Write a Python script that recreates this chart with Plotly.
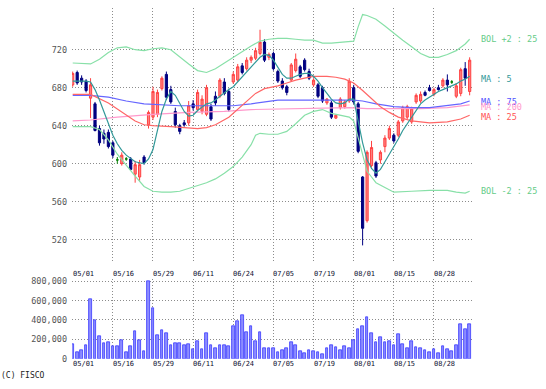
import plotly.graph_objects as go

# ---------------- data ----------------
tick_idx = [0, 9, 18, 27, 36, 45, 54, 63, 72, 81]
tick_labels = ["05/01", "05/16", "05/29", "06/11", "06/24",
               "07/05", "07/19", "08/01", "08/15", "08/28"]

open_ = [683, 696, 690, 687, 669, 663, 637, 632, 633, 622,
         604, 600, 605, 605, 589, 586, 607, 641, 649, 652,
         679, 694, 678, 655, 640, 643, 643, 663, 657, 655,
         652, 660, 671, 671, 686, 676, 686, 688, 703, 700,
         709, 711, 716, 728, 712, 716, 697, 687, 681, 688,
         698, 702, 709, 697, 683, 683, 680, 664, 664, 648,
         659, 660, 666, 680, 663, 586, 540, 598, 601, 604,
         618, 627, 630, 630, 645, 649, 644, 665, 666, 675,
         680, 673, 680, 682, 688, 686, 671, 674, 700, 676]
high = [697, 698, 693, 689, 690, 665, 640, 636, 636, 624,
        607, 612, 607, 607, 603, 604, 609, 656, 681, 678,
        692, 697, 682, 659, 642, 646, 666, 667, 678, 672,
        683, 663, 676, 690, 690, 679, 697, 705, 706, 712,
        714, 722, 741, 731, 717, 718, 699, 690, 683, 706,
        716, 704, 711, 700, 690, 685, 682, 669, 666, 652,
        670, 667, 690, 683, 665, 587, 614, 624, 603, 614,
        630, 640, 632, 646, 661, 662, 660, 674, 676, 677,
        683, 680, 683, 690, 694, 688, 685, 701, 707, 712]
low = [681, 683, 683, 675, 648, 634, 619, 621, 616, 606,
       600, 598, 603, 593, 580, 582, 599, 637, 646, 649,
       677, 667, 663, 638, 631, 639, 640, 656, 655, 652,
       650, 645, 661, 669, 672, 655, 684, 686, 694, 698,
       706, 709, 714, 707, 709, 698, 685, 678, 672, 686,
       696, 690, 697, 688, 681, 669, 664, 662, 647, 647,
       657, 658, 664, 663, 611, 514, 538, 596, 585, 600,
       612, 625, 622, 628, 643, 647, 642, 663, 664, 671,
       676, 671, 677, 680, 676, 684, 669, 671, 682, 672]
close = [695, 685, 686, 677, 683, 635, 622, 626, 618, 609,
         604, 609, 605, 594, 599, 599, 601, 654, 676, 675,
         690, 670, 665, 641, 634, 641, 661, 659, 675, 668,
         680, 647, 664, 688, 674, 657, 694, 702, 696, 709,
         712, 719, 728, 709, 715, 700, 687, 680, 675, 704,
         710, 692, 699, 690, 688, 671, 666, 668, 649, 651,
         668, 665, 687, 665, 613, 532, 612, 617, 587, 612,
         627, 637, 624, 644, 659, 660, 658, 672, 673, 672,
         677, 678, 678, 688, 683, 686, 682, 699, 690, 709]
doji_idx = [10, 12, 85]

volume = [150000, 67000, 90000, 140000, 610000, 397000, 233000, 163000, 173000, 127000,
          127000, 193000, 73000, 127000, 283000, 190000, 83000, 800000, 517000, 240000,
          290000, 267000, 143000, 160000, 160000, 143000, 150000, 97000, 177000, 100000,
          260000, 143000, 110000, 143000, 143000, 127000, 337000, 387000, 453000, 270000,
          337000, 177000, 277000, 107000, 107000, 107000, 70000, 93000, 113000, 170000,
          143000, 83000, 63000, 87000, 83000, 70000, 50000, 113000, 140000, 123000,
          90000, 133000, 113000, 193000, 310000, 333000, 430000, 267000, 167000, 227000,
          167000, 180000, 140000, 250000, 150000, 107000, 180000, 117000, 107000, 90000,
          67000, 100000, 63000, 133000, 100000, 77000, 143000, 360000, 310000, 360000]

ma5 = [687, 687, 687, 687, 686, 678, 667, 654, 641, 630,
       621, 614, 609, 605, 602, 601, 600, 605, 615, 635,
       655, 668, 676, 672, 664, 655, 650, 651, 656, 660,
       663, 664, 667, 671, 675, 678, 681, 686, 691, 696,
       702, 707, 712, 715, 714, 709, 701, 694, 690, 690,
       692, 694, 695, 695, 692, 687, 680, 674, 668, 664,
       663, 664, 668, 668, 645, 622, 604, 595, 590, 594,
       602, 610, 617, 626, 635, 642, 649, 656, 663, 667,
       670, 673, 676, 678, 680, 682, 684, 687, 689, 692]

ma25_x = [0, 4, 8, 12, 14, 16, 18, 22, 25, 28, 30, 32, 35, 37, 39, 41, 43, 46, 48, 50,
          52, 54, 57, 59, 61, 63, 65, 67, 69, 71, 73, 76, 80, 84, 87, 89]
ma25_y = [673, 673, 664, 651, 645, 641, 640, 639, 638, 637, 638, 641, 649, 657, 666, 674, 679, 682, 685, 688,
          690, 692, 692, 691, 689, 685, 677, 668, 660, 654, 649, 645, 643, 644, 647, 651]

ma75_x = [0, 4, 8, 12, 16, 20, 24, 30, 36, 40, 43, 46, 50, 55, 60, 63, 65, 68, 72, 76, 80, 84, 87, 89]
ma75_y = [672, 672, 670, 666, 663, 662, 661, 661, 661, 663, 665, 667, 667, 667, 667, 667, 666, 663, 660, 659,
          659, 661, 663, 666]

ma200_x = [0, 4, 10, 18, 26, 34, 40, 48, 56, 62, 66, 72, 78, 84, 89]
ma200_y = [645, 646, 649, 652, 654, 655, 657, 658, 659, 659, 658, 658, 658, 659, 662]

bolu_x = [0, 4, 6, 8, 10, 12, 14, 16, 18, 20, 22, 24, 26, 28, 30, 32, 34, 36, 38, 40, 42, 44, 46, 48,
          50, 52, 54, 56, 58, 60, 62, 63, 64, 65, 66, 68, 70, 72, 74, 76, 78, 80, 82, 84, 86, 88, 89]
bolu_y = [706, 705, 710, 717, 722, 723, 720, 719, 721, 722, 720, 712, 705, 698, 696, 700, 706, 712, 718, 724,
          729, 731, 732, 732, 731, 730, 730, 727, 727, 728, 729, 729, 744, 757, 756, 752, 745, 737, 730, 723,
          716, 712, 712, 715, 719, 726, 731]

boll_x = [0, 4, 6, 8, 10, 12, 14, 16, 18, 20, 22, 24, 26, 28, 30, 32, 34, 36, 38, 40, 41, 42, 44, 46, 48,
          50, 52, 54, 56, 58, 60, 62, 63, 64, 65, 66, 67, 68, 70, 72, 76, 80, 84, 86, 88, 89]
boll_y = [639, 639, 636, 625, 610, 598, 587, 576, 571, 570, 570, 571, 574, 577, 580, 584, 590, 597, 607, 620,
          630, 632, 631, 631, 634, 642, 651, 655, 657, 653, 651, 649, 645, 628, 611, 592, 586, 580, 575, 570,
          571, 572, 572, 570, 569, 571]

price_ticks = [520, 560, 600, 640, 680, 720]
vol_ticks = [0, 200000, 400000, 600000, 800000]

right_labels = [("BOL +2 : 25", 731, "#66cc88"),
                ("MA : 5", 689, "#339999"),
                ("MA : 75", 665, "#5555ff"),
                ("MA : 200", 660, "#ff99cc"),
                ("MA : 25", 649, "#ff5555"),
                ("BOL -2 : 25", 571, "#66cc88")]

# ---------------- figure ----------------
W, H = 546, 389
X0, X1 = 72, 473
Y_MAIN_TOP, Y_MAIN_BOT = 5, 263
Y_VOL_TOP, Y_VOL_BOT = 282, 363.3
MAIN_RANGE = [498, 764]


def py(p):
    return 1 - p / H


def val_to_px(v):
    return Y_MAIN_TOP + (MAIN_RANGE[1] - v) / (MAIN_RANGE[1] - MAIN_RANGE[0]) * (Y_MAIN_BOT - Y_MAIN_TOP)


fig = go.Figure()

norm = [i for i in range(len(open_)) if i not in doji_idx]
fig.add_trace(go.Candlestick(
    x=norm, open=[open_[i] for i in norm], high=[high[i] for i in norm],
    low=[low[i] for i in norm], close=[close[i] for i in norm],
    increasing=dict(fillcolor="#ff8080", line=dict(color="#ff4040", width=1)),
    decreasing=dict(fillcolor="#000080", line=dict(color="#000080", width=1)),
    whiskerwidth=0, hoverinfo="skip", showlegend=False, xaxis="x", yaxis="y"))
fig.add_trace(go.Candlestick(
    x=doji_idx, open=[open_[i] for i in doji_idx], high=[high[i] for i in doji_idx],
    low=[low[i] for i in doji_idx], close=[close[i] for i in doji_idx],
    increasing=dict(fillcolor="#008000", line=dict(color="#008000", width=1)),
    decreasing=dict(fillcolor="#008000", line=dict(color="#008000", width=1)),
    whiskerwidth=0, hoverinfo="skip", showlegend=False, xaxis="x", yaxis="y"))

lines = [
    (bolu_x, bolu_y, "#88e0a8"),
    (boll_x, boll_y, "#88e0a8"),
    (ma200_x, ma200_y, "#ff99cc"),
    (ma75_x, ma75_y, "#6666ff"),
    (ma25_x, ma25_y, "#ff6666"),
    (list(range(len(ma5))), ma5, "#339999"),
]
for lx, ly, col in lines:
    fig.add_trace(go.Scatter(x=lx, y=ly, mode="lines", line=dict(color=col, width=1.2),
                             hoverinfo="skip", showlegend=False, xaxis="x", yaxis="y"))

fig.add_trace(go.Bar(x=list(range(len(volume))), y=volume, width=0.6,
                     marker=dict(color="#8c8cff", line=dict(color="#3a3aff", width=0.8)),
                     hoverinfo="skip", showlegend=False, xaxis="x2", yaxis="y2"))

grid = dict(showgrid=True, gridcolor="#8c8c8c", griddash="1px,2px", gridwidth=1,
            zeroline=False, showline=False, ticks="")
tickfont = dict(family="DejaVu Sans Mono", size=8.5, color="#555555")

fig.update_layout(
    width=W, height=H, margin=dict(l=0, r=0, t=0, b=0),
    paper_bgcolor="white", plot_bgcolor="white", showlegend=False,
    xaxis=dict(domain=[X0 / W, X1 / W], range=[-0.16, 89.75], tickvals=tick_idx,
               showticklabels=False, anchor="y", rangeslider=dict(visible=False), **grid),
    yaxis=dict(domain=[py(Y_MAIN_BOT), py(Y_MAIN_TOP)], range=MAIN_RANGE, tickvals=price_ticks,
               tickfont=tickfont, anchor="x", ticklabelstandoff=4, **grid),
    xaxis2=dict(domain=[X0 / W, X1 / W], matches="x", tickvals=tick_idx,
                showticklabels=False, anchor="y2", **grid),
    yaxis2=dict(domain=[py(Y_VOL_BOT), py(Y_VOL_TOP)], range=[0, 820000], tickvals=vol_ticks,
                tickformat=",d", tickfont=tickfont, anchor="x2", ticklabelstandoff=4, **grid),
    bargap=0,
)

ann = []
lab_font = dict(family="DejaVu Sans Mono", size=7, color="#101030")
for idx, lab in zip(tick_idx, tick_labels):
    for ypx in (271.5, 363.5):
        ann.append(dict(x=idx, xref="x", y=py(ypx), yref="paper", text=lab, showarrow=False,
                        xanchor="left", yanchor="top", font=lab_font, borderpad=0, xshift=-1))
for txt, v, col in right_labels:
    ann.append(dict(x=480 / W, xref="paper", y=py(val_to_px(v)), yref="paper", text=txt,
                    showarrow=False, xanchor="left", yanchor="middle", borderpad=0,
                    font=dict(family="DejaVu Sans Mono", size=8.5, color=col)))
ann.append(dict(x=0, xref="paper", y=py(380), yref="paper", text="(C) FISCO", showarrow=False,
                xanchor="left", yanchor="middle", borderpad=0,
                font=dict(family="DejaVu Sans Mono", size=8, color="#222222")))
fig.update_layout(annotations=ann)

fig.write_html("out.html", config={"displayModeBar": False},
               post_script="document.body.style.margin='0';document.body.style.overflow='hidden';")
